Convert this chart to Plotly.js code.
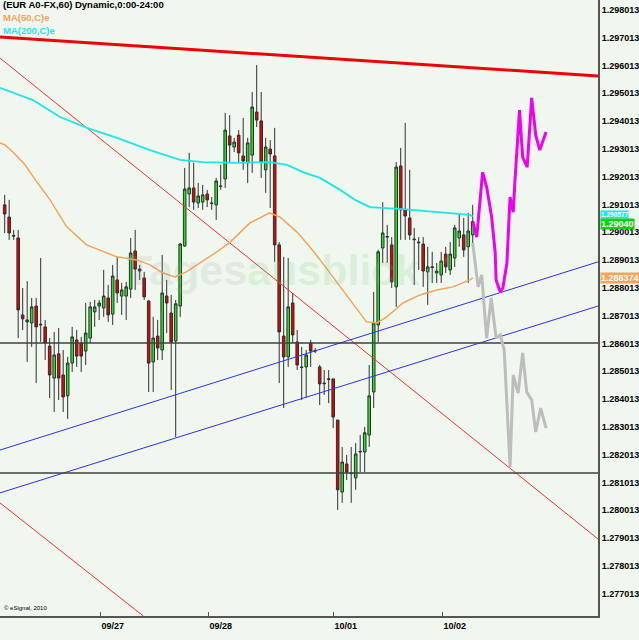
<!DOCTYPE html>
<html>
<head>
<meta charset="utf-8">
<script src="https://cdn.plot.ly/plotly-3.0.1.min.js"></script>
<style>html,body{margin:0;padding:0;background:#EFF7EF;}#chart{width:639px;height:640px;}</style>
</head>
<body>
<div id="chart"></div>
<script>
// ---- hourly candles (EUR A0-FX, 60 min) ----
const openP = [1.29100,1.29056,1.28990,1.28981,1.28704,1.28679,1.28675,1.28736,1.28668,1.28661,
1.28592,1.28477,1.28564,1.28488,1.28413,1.28531,1.28614,1.28603,1.28574,1.28621,
1.28715,1.28736,1.28729,1.28765,1.28707,1.28830,1.28772,1.28772,1.28797,1.28934,
1.28869,1.28837,1.28754,1.28535,1.28628,1.28578,1.28772,1.28711,1.28610,1.28736,
1.28952,1.29139,1.29161,1.29107,1.29110,1.29139,1.29107,1.29100,1.29168,1.29193,
1.29348,1.29308,1.29351,1.29276,1.29251,1.29279,1.29434,1.29402,1.29226,1.29301,
1.29276,1.28956,1.28628,1.28553,1.28747,1.28607,1.28517,1.28517,1.28603,1.28574,
1.28517,1.28459,1.28472,1.28474,1.28326,1.28067,1.28168,1.28136,1.28118,1.28211,
1.28211,1.28272,1.28427,1.28668,1.28945,1.28984,1.28956,1.28805,1.29240,1.29082,
1.29053,1.28977,1.28966,1.28959,1.28859,1.28877,1.28862,1.28848,1.28923,1.28866,
1.28909,1.28981,1.28992,1.28949,1.28992];
const highP = [1.29136,1.29118,1.29010,1.29010,1.28801,1.28826,1.28765,1.28765,1.28909,1.28686,
1.28621,1.28643,1.28657,1.28578,1.28553,1.28661,1.28650,1.28625,1.28747,1.28751,
1.28758,1.28758,1.28866,1.28812,1.28884,1.28913,1.28819,1.28823,1.28981,1.29010,
1.28884,1.28859,1.28758,1.28697,1.28686,1.28920,1.28830,1.28776,1.28758,1.28963,
1.29233,1.29287,1.29251,1.29179,1.29172,1.29154,1.29128,1.29197,1.29244,1.29431,
1.29423,1.29341,1.29369,1.29413,1.29341,1.29506,1.29603,1.29506,1.29341,1.29333,
1.29377,1.28966,1.28913,1.28909,1.28783,1.28650,1.28589,1.28578,1.28614,1.28585,
1.28524,1.28506,1.28506,1.28474,1.28326,1.28229,1.28200,1.28229,1.28243,1.28272,
1.28301,1.28524,1.28787,1.28938,1.29110,1.29028,1.28984,1.29254,1.29305,1.29395,
1.29226,1.29017,1.28984,1.28984,1.28949,1.28931,1.28891,1.28931,1.28949,1.28966,
1.29028,1.29064,1.29053,1.29071,1.29100];
const lowP = [1.28999,1.28974,1.28974,1.28621,1.28650,1.28535,1.28589,1.28459,1.28607,1.28542,
1.28405,1.28355,1.28398,1.28355,1.28330,1.28499,1.28517,1.28499,1.28524,1.28603,
1.28661,1.28686,1.28697,1.28679,1.28668,1.28747,1.28704,1.28686,1.28765,1.28794,
1.28830,1.28758,1.28427,1.28427,1.28542,1.28542,1.28639,1.28434,1.28265,1.28697,
1.28949,1.29092,1.29082,1.29089,1.29082,1.29092,1.29082,1.29046,1.29154,1.29161,
1.29254,1.29290,1.29254,1.29226,1.29179,1.29215,1.29380,1.29197,1.29143,1.29089,
1.28895,1.28459,1.28369,1.28517,1.28603,1.28506,1.28398,1.28405,1.28517,1.28567,
1.28380,1.28416,1.28387,1.28297,1.28002,1.28028,1.28110,1.28028,1.28075,1.28139,
1.28139,1.28229,1.28369,1.28607,1.28891,1.28891,1.28801,1.28733,1.28974,1.28974,
1.28974,1.28812,1.28866,1.28805,1.28740,1.28819,1.28819,1.28819,1.28855,1.28848,
1.28877,1.28949,1.28913,1.28819,1.28963];
const closeP = [1.29067,1.28999,1.28988,1.28722,1.28690,1.28686,1.28733,1.28661,1.28670,1.28603,
1.28488,1.28560,1.28477,1.28409,1.28531,1.28625,1.28556,1.28556,1.28639,1.28733,
1.28733,1.28747,1.28772,1.28704,1.28844,1.28783,1.28794,1.28805,1.28927,1.28869,
1.28862,1.28769,1.28531,1.28621,1.28585,1.28783,1.28747,1.28607,1.28744,1.28959,
1.29157,1.29161,1.29110,1.29132,1.29136,1.29118,1.29105,1.29186,1.29166,1.29369,
1.29315,1.29326,1.29287,1.29258,1.29323,1.29452,1.29405,1.29254,1.29308,1.29283,
1.28956,1.28643,1.28553,1.28733,1.28632,1.28524,1.28515,1.28560,1.28574,1.28576,
1.28456,1.28457,1.28474,1.28337,1.28075,1.28175,1.28139,1.28134,1.28204,1.28213,
1.28280,1.28413,1.28675,1.28931,1.28999,1.28986,1.28823,1.29236,1.29082,1.29060,
1.28992,1.28975,1.28964,1.28862,1.28877,1.28875,1.28855,1.28898,1.28877,1.28923,
1.29017,1.29006,1.28938,1.29006,1.29040];

// ---- moving averages (read at bar positions) ----
const ma50Bar = [-1.04,0.07,1.84,4.51,7.18,10.07,13.78,18.2,24.9,29.3,32.3,35.2,37.8,40.4,43.4,47.8,50.1,54.5,58.9,61.2,64.9,67.8,70.1,73.4,77.4,80.4,82.7,84.9,86.7,88.5,92.3,96.0,99.6,103.4,104];
const ma50Val = [1.29323,1.29316,1.29290,1.29244,1.29182,1.29118,1.29021,1.28956,1.28913,1.28902,1.28884,1.28855,1.28841,1.28859,1.28891,1.28938,1.28966,1.29035,1.29071,1.29056,1.29003,1.28949,1.28902,1.28830,1.28747,1.28679,1.28675,1.28697,1.28722,1.28747,1.28776,1.28794,1.28805,1.28830,1.28837];
const ma200Bar = [-1.04,6.29,12.29,18.29,24.96,32.29,38.96,44.07,51.62,58.96,62.73,66.29,70.07,74.51,77.84,81.18,88.51,96.07,103.4,104];
const ma200Val = [1.29521,1.29477,1.29416,1.29377,1.29341,1.29297,1.29262,1.29254,1.29251,1.29254,1.29244,1.29218,1.29197,1.29154,1.29118,1.29092,1.29085,1.29074,1.29064,1.29058];

// ---- projected paths ----
const magBar = [104,104.9,106.2,107.1,108.2,109.0,109.2,110.1,110.7,111.6,112.3,113.0,113.4,114.4,115.1,116.1,117.1,118.0,118.9,120.3];
const magVal = [1.29040,1.28984,1.29218,1.29164,1.29057,1.28927,1.28830,1.28787,1.28801,1.28891,1.29128,1.29074,1.29190,1.29441,1.29272,1.29236,1.29485,1.29351,1.29297,1.29362];
const greyBar = [104,105.2,106.0,107.1,108.1,109.2,110.1,111.0,112.3,113.0,114.1,115.1,116.0,117.1,118.0,119.1,120.3];
const greyVal = [1.28963,1.28805,1.28848,1.28621,1.28765,1.28621,1.28632,1.28578,1.28157,1.28488,1.28423,1.28567,1.28427,1.28398,1.28283,1.28369,1.28297];

// ---- drawn lines (endpoints) ----
const thickRedBar = [-1.04,131.84], thickRedVal = [1.29704,1.29564];
const redA_Bar = [-1.04,131.84], redA_Val = [1.29628,1.27898];
const redB_Bar = [-1.04,30.8], redB_Val = [1.28028,1.27621];
const blueA_Bar = [-1.04,131.84], blueA_Val = [1.28218,1.28895];
const blueB_Bar = [-1.04,131.84], blueB_Val = [1.28064,1.28736];
const hLevels = [1.28603,1.28135];

// ---- axis labels ----
const yTickLabels = ['1.277013','1.278013','1.279013','1.280013','1.281013','1.282013','1.283013','1.284013','1.285013','1.286013','1.287013','1.288013','1.289013','1.290013','1.291013','1.292013','1.293013','1.294013','1.295013','1.296013','1.297013','1.298013'];
const xTickBars = [21.18,45.18,72.96,97.18];
const xTickLabels = ['09/27','09/28','10/01','10/02'];
const lastClose = '1.29040', ma50Last = '1.288374', ma200Last = '1.290577';

const idx = openP.map((_, i) => i);
const BG = '#EFF7EF', ORANGE = '#F4A35A', CYAN = '#1EE6E6';
const edge = [-1.04, 131.84];

function line(x, y, color, width) {
  return {type:'scatter', mode:'lines', x:x, y:y, line:{color:color, width:width}, hoverinfo:'skip', showlegend:false};
}

const traces = [
  line(redA_Bar, redA_Val, '#F03030', 1),
  line(redB_Bar, redB_Val, '#F03030', 1),
  line(blueA_Bar, blueA_Val, '#3030F0', 1),
  line(blueB_Bar, blueB_Val, '#3030F0', 1),
  line(edge, [hLevels[0], hLevels[0]], '#404040', 1.5),
  line(edge, [hLevels[1], hLevels[1]], '#404040', 1.5),
  line(thickRedBar, thickRedVal, '#F00000', 3),
  line(ma200Bar, ma200Val, CYAN, 1.8),
  line(ma50Bar, ma50Val, ORANGE, 1.5),
  {type:'candlestick', x:idx, open:openP, high:highP, low:lowP, close:closeP,
   increasing:{line:{color:'#303030', width:1}, fillcolor:'#22E022'},
   decreasing:{line:{color:'#303030', width:1}, fillcolor:'#E80000'},
   whiskerwidth:0, hoverinfo:'skip', showlegend:false},
  line(greyBar, greyVal, '#BDBDBD', 3),
  line(magBar, magVal, '#F000F0', 3)
];

const yTickVals = yTickLabels.map(parseFloat);
const FAM = 'Liberation Sans, Arial, sans-serif';
const tfont = {family:FAM, size:9, color:'#000', weight:'bold'};

const layout = {
  width:639, height:640,
  margin:{l:0, r:41, t:0, b:24, pad:0},
  paper_bgcolor:BG, plot_bgcolor:BG,
  showlegend:false,
  boxgap:0.18,
  xaxis:{range:edge, showgrid:false, zeroline:false, showline:true, linecolor:'#555', linewidth:2,
    tickvals:xTickBars, ticktext:xTickLabels, ticks:'inside', ticklen:4, tickcolor:'#555',
    ticklabelposition:'outside right', tickfont:tfont, rangeslider:{visible:false}, fixedrange:true},
  yaxis:{range:[1.27621, 1.29837], side:'right', showgrid:false, zeroline:false, showline:true,
    linecolor:'#555', linewidth:2, tickvals:yTickVals, ticktext:yTickLabels, ticks:'', tickfont:tfont, fixedrange:true},
  annotations:[
    {xref:'paper', yref:'paper', x:0.002, y:0.992, xanchor:'left', yanchor:'middle', showarrow:false,
     text:'(EUR A0-FX,60) Dynamic,0:00-24:00', font:{family:FAM, size:9.5, weight:'bold', color:'#000'}},
    {xref:'paper', yref:'paper', x:0.002, y:0.971, xanchor:'left', yanchor:'middle', showarrow:false,
     text:'MA(50,C)e', font:{family:FAM, size:9.5, weight:'bold', color:ORANGE}},
    {xref:'paper', yref:'paper', x:0.002, y:0.950, xanchor:'left', yanchor:'middle', showarrow:false,
     text:'MA(200,C)e', font:{family:FAM, size:9.5, weight:'bold', color:CYAN}},
    {xref:'paper', yref:'paper', x:0.004, y:0.013, xanchor:'left', yanchor:'middle', showarrow:false,
     text:'© eSignal, 2010', font:{family:FAM, size:6, color:'#000'}},
    {xref:'paper', yref:'paper', x:0.485, y:0.562, xanchor:'center', yanchor:'middle', showarrow:false,
     text:'<span style="color:rgba(150,160,150,0.17)">Tages</span><span style="color:rgba(110,200,110,0.17)">ausblick✓</span>',
     font:{family:FAM, size:43, weight:'bold'}},
    {xref:'paper', yref:'y', x:1, y:parseFloat(ma200Last), xanchor:'left', yanchor:'middle', xshift:2, yshift:2,
     showarrow:false, text:ma200Last, bgcolor:CYAN, borderpad:0,
     font:{family:FAM, size:6.5, weight:'bold', color:'#fff'}},
    {xref:'paper', yref:'y', x:1, y:parseFloat(lastClose), xanchor:'left', yanchor:'middle', xshift:2, yshift:-2,
     showarrow:false, text:lastClose, bgcolor:'#10D010', borderpad:0,
     font:{family:FAM, size:9, weight:'bold', color:'#fff'}},
    {xref:'paper', yref:'y', x:1, y:parseFloat(ma50Last), xanchor:'left', yanchor:'middle', xshift:2,
     showarrow:false, text:ma50Last, bgcolor:ORANGE, borderpad:0,
     font:{family:FAM, size:9, weight:'bold', color:'#fff'}}
  ]
};

Plotly.newPlot('chart', traces, layout, {displayModeBar:false, staticPlot:true});
</script>
</body>
</html>
